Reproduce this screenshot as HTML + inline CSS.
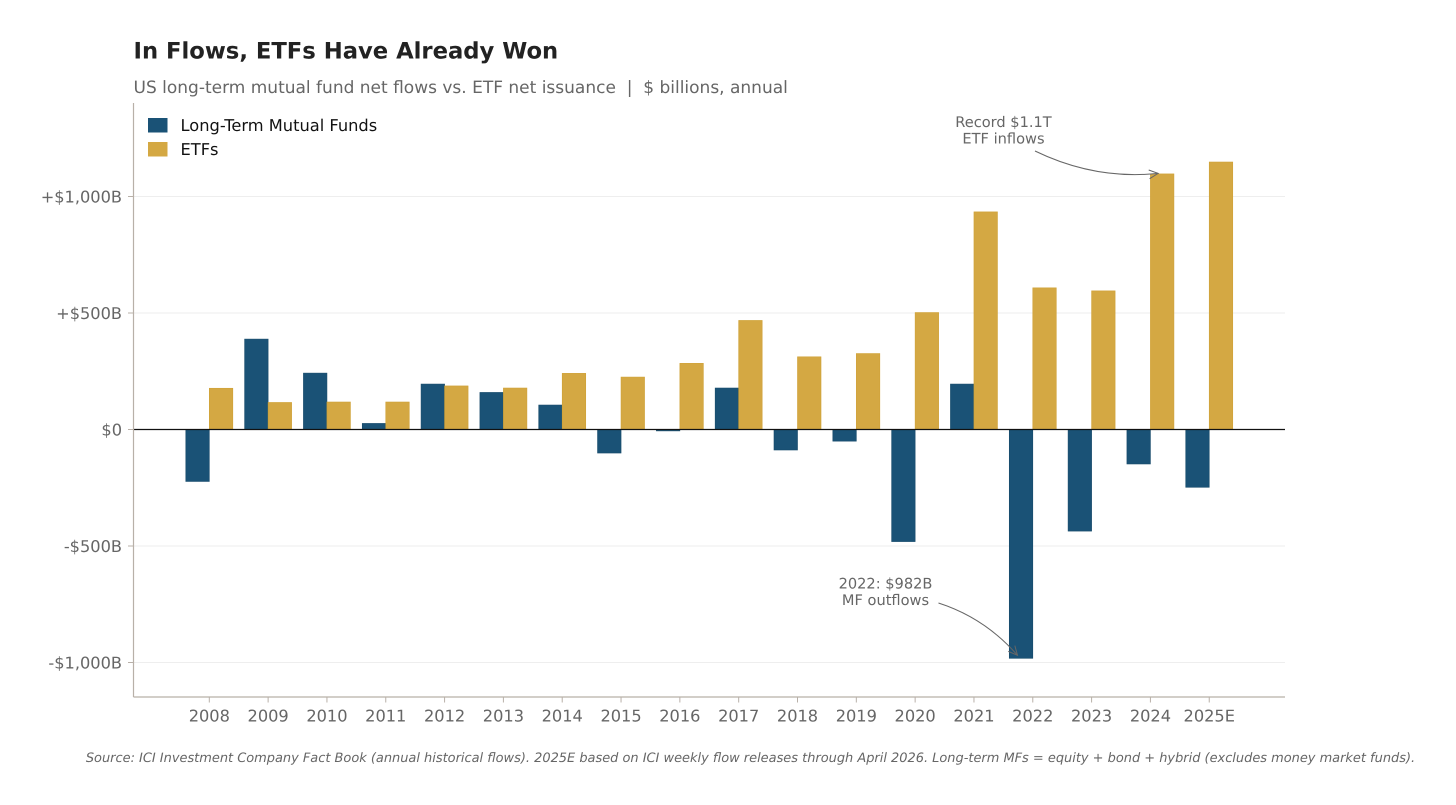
<!DOCTYPE html>
<html>
<head>
<meta charset="utf-8">
<title>In Flows, ETFs Have Already Won</title>
<style>
html,body{margin:0;padding:0;background:#fff;width:1456px;height:805px;overflow:hidden}
svg{display:block}
text{font-family:"DejaVu Sans","Liberation Sans",sans-serif;text-rendering:geometricPrecision;white-space:pre}
</style>
</head>
<body>
<svg id="chart" xmlns="http://www.w3.org/2000/svg" width="1456" height="805" viewBox="0 0 1456 805">
  <text x="133.5" y="58.5" font-size="22.7" font-weight="700" fill="#222222">In Flows, ETFs Have Already Won</text>
  <text x="133.5" y="93" font-size="17" fill="#666666">US long-term mutual fund net flows vs. ETF net issuance  |  $ billions, annual</text>
  <g id="grid"></g>
  <g id="bars"></g>
  <g id="axes"></g>
  <g id="notes"></g>
  <g>
    <rect x="148" y="118" width="19.5" height="14.5" fill="#1a5276"/>
    <text x="180.5" y="131" font-size="16.25" fill="#111111">Long-Term Mutual Funds</text>
    <rect x="148" y="142" width="19.5" height="14.5" fill="#d4a843"/>
    <text x="180.5" y="155" font-size="16.25" fill="#111111">ETFs</text>
  </g>
  <text x="750.5" y="762" text-anchor="middle" font-size="12.95" font-style="italic" fill="#666666">Source: ICI Investment Company Fact Book (annual historical flows). 2025E based on ICI weekly flow releases through April 2026. Long-term MFs = equity + bond + hybrid (excludes money market funds).</text>
</svg>
<script>
const categories = ['2008','2009','2010','2011','2012','2013','2014','2015','2016','2017','2018','2019','2020','2021','2022','2023','2024','2025E'];
const mutualFundFlows = [-223,388,242,26,195,159,105,-101,-6,178,-88,-50,-481,195,-982,-436,-148,-248];
const etfFlows = [177,116,118,118,187,178,241,225,284,468,312,326,502,934,608,595,1097,1148];
const yTickValues = [-1000,-500,0,500,1000];
const yTickLabels = ['-$1,000B','-$500B','$0','+$500B','+$1,000B'];

const NS = 'http://www.w3.org/2000/svg';
const plot = {left:133.5,right:1285,top:103,bottom:697};
const STEP = 58.82, BAR = 23.5;
function xScale(i){ return 209.3 + i*STEP; }
function yScale(v){ return 429.5 - v*0.233; }
function make(tag, attrs, parent, txt){
  const el = document.createElementNS(NS, tag);
  for (const k in attrs) el.setAttribute(k, attrs[k]);
  if (txt !== undefined) el.textContent = txt;
  parent.appendChild(el);
  return el;
}
const gGrid = document.getElementById('grid');
const gBars = document.getElementById('bars');
const gAxes = document.getElementById('axes');
const gNotes = document.getElementById('notes');

yTickValues.forEach(function(v,i){
  const y = yScale(v);
  if (v !== 0) {
    const gl = make('line',{x1:plot.left,x2:plot.right,y1:y,y2:y,stroke:'#eeeeee','stroke-width':1},gGrid);
    
    
  }
  const t = make('line',{x1:plot.left-5.5,x2:plot.left,y1:y,y2:y,stroke:'#b8b0a8','stroke-width':1},gAxes);
  
  
  const l = make('text',{x:122,y:y+6,'text-anchor':'end','font-size':16.2,fill:'#666666'},gAxes,yTickLabels[i]);
  
  
});

function drawBar(value, x, fill, stroke, name){
  const y0 = yScale(0), y1 = yScale(value);
  const r = make('rect',{x:x,y:Math.min(y0,y1),width:BAR,height:Math.abs(y1-y0),fill:fill,stroke:stroke,'stroke-width':0.6},gBars);
  
  
}
categories.forEach(function(c,i){
  const cx = xScale(i);
  drawBar(mutualFundFlows[i], cx-BAR, '#1a5276', '#174a6a', 'bar-mutual-funds-'+c);
  drawBar(etfFlows[i], cx, '#d4a843', '#cfa136', 'bar-etfs-'+c);
  const t = make('line',{x1:cx,x2:cx,y1:plot.bottom,y2:plot.bottom+5.5,stroke:'#b8b0a8','stroke-width':1},gAxes);
  
  
  const l = make('text',{x:cx,y:721.5,'text-anchor':'middle','font-size':16.2,fill:'#666666'},gAxes,c);
  
  
});

const zero = make('line',{x1:plot.left,x2:plot.right,y1:yScale(0),y2:yScale(0),stroke:'#111111','stroke-width':1.2},gAxes);


const ls = make('line',{x1:plot.left,x2:plot.left,y1:plot.top,y2:plot.bottom,stroke:'#b8b0a8','stroke-width':1.2},gAxes);


const bs = make('line',{x1:plot.left,x2:plot.right,y1:plot.bottom,y2:plot.bottom,stroke:'#b8b0a8','stroke-width':1.2},gAxes);



function drawNote(lines, tx, ty, sx, sy, cxp, cyp, ex, ey, name){
  lines.forEach(function(s,i){
    const t = make('text',{x:tx,y:ty+i*16.5,'text-anchor':'middle','font-size':14.6,fill:'#666666'},gNotes,s);
    
    
  });
  const p = make('path',{d:'M'+sx+' '+sy+' Q'+cxp+' '+cyp+' '+ex+' '+ey,fill:'none',stroke:'#666666','stroke-width':1},gNotes);
  
  
  const a = Math.atan2(ey-cyp, ex-cxp), L = 10, w = 0.45;
  const h = make('path',{d:'M'+(ex-L*Math.cos(a-w))+' '+(ey-L*Math.sin(a-w))+' L'+ex+' '+ey+' L'+(ex-L*Math.cos(a+w))+' '+(ey-L*Math.sin(a+w)),fill:'none',stroke:'#666666','stroke-width':1},gNotes);
  
  
}
drawNote(['Record $1.1T','ETF inflows'],1003.5,127,1035,151,1095,180,xScale(16)+7.7,yScale(1097)-0.5,'record-etf-annotation');
drawNote(['2022: $982B','MF outflows'],885.5,588.5,938.5,603,985,618,xScale(14)-15.3,yScale(-982)-3,'mf-outflows-annotation');
</script>
</body>
</html>
